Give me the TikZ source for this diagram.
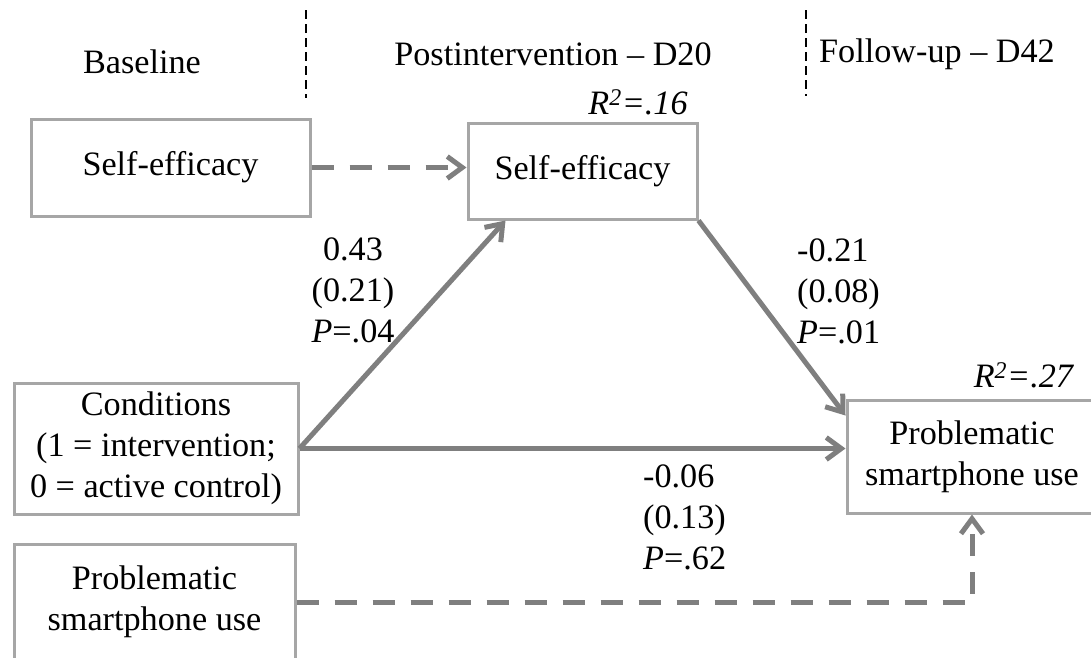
\documentclass[tikz,border=0pt]{standalone}
\usepackage{fontspec}
\setmainfont{Liberation Serif}
\usetikzlibrary{arrows.meta}

\definecolor{boxgray}{RGB}{166,166,166}
\definecolor{arrgray}{RGB}{127,127,127}

\begin{document}
\begin{tikzpicture}
  [x=1pt,y=-1pt,
   every node/.style={font=\fontsize{34.2}{41}\selectfont,inner sep=0pt},
   box/.style={draw=boxgray,line width=3pt,align=center},
   effect/.style={draw=arrgray,line width=5pt,arrows={-{Straight Barb[length=15pt,width=22pt]}}},
   covar/.style={effect,dash pattern=on 22pt off 16pt},
   divider/.style={draw=black,line width=2.6pt,dash pattern=on 9pt off 5pt}]
  \useasboundingbox (0,0) rectangle (1091,657);

  % time points
  \node (hdbase) at (142,62) {Baseline};
  \node (hdpost) at (553,54) {Postintervention -- D20};
  \node (hdfollow) at (937,54) {Follow-up -- D42};
  \coordinate (div1a) at (306,10);
  \coordinate (div1b) at (306,98);
  \coordinate (div2a) at (806,10);
  \coordinate (div2b) at (806,96);
  \draw[divider] (div1a) -- (div1b);
  \draw[divider] (div2a) -- (div2b);

  % boxes
  \node[box,minimum width=279pt,minimum height=97pt] (se0) at (170.5,167.5) {Self-efficacy};
  \node[box,minimum width=229pt,minimum height=96pt] (se1) at (582.5,171) {Self-efficacy};
  \node[box,minimum width=284pt,minimum height=131pt] (cond) at (156,448.5)
    {Conditions\\(1 = intervention;\\0 = active control)};
  \node[box,minimum width=281pt,minimum height=116pt] (psu0) at (154.5,602)
    {Problematic\\smartphone use};
  \node[box,minimum width=250pt,minimum height=113pt] (psu1) at (972,456.5)
    {Problematic\\smartphone use};

  \node (rsq1) at (638,102) {\textit{R\textsuperscript{2}=.16}};
  \node (rsq2) at (1024,375) {\textit{R\textsuperscript{2}=.27}};

  % paths
  \coordinate (tipA) at ([xshift=39pt]se1.south west);
  \coordinate (tipB) at ([yshift=-17pt]psu1.north west);
  \draw[covar] (se0.east) -- (se0.east -| se1.west);
  \draw[effect] (cond.east) -- (tipA);
  \draw[effect] (se1.south east) -- (tipB);
  \draw[effect] (cond.east) -- (cond.east -| psu1.west);
  \draw[covar] (psu0.east) -- (psu0.east -| psu1.south) -- (psu1.south);

  \node[align=center] (est1) at (353,290) {0.43\\(0.21)\\\textit{P}=.04};
  \node[align=left,anchor=west] (est2) at (797,291) {-0.21\\(0.08)\\\textit{P}=.01};
  \node[align=left,anchor=west] (est3) at (643,517) {-0.06\\(0.13)\\\textit{P}=.62};
\end{tikzpicture}
\end{document}
